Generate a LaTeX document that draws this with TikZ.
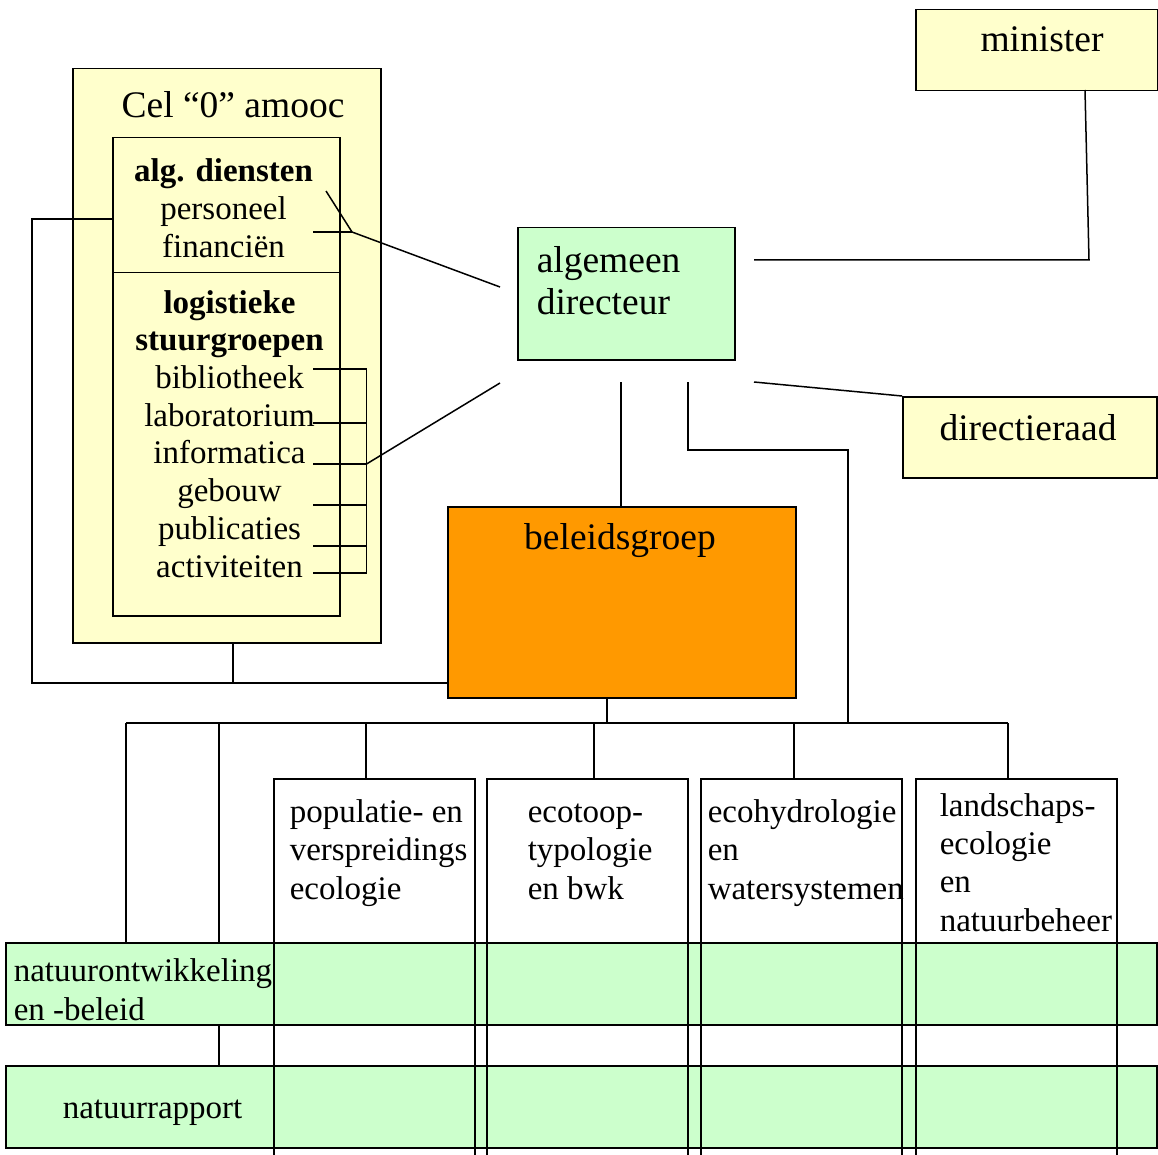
\documentclass[tikz,border=0pt]{standalone}
\usepackage{fontspec}
\setmainfont{Liberation Serif}
\usetikzlibrary{calc,positioning}
\definecolor{paleyellow}{HTML}{FFFFCC}
\definecolor{palegreen}{HTML}{CCFFCC}
\definecolor{deeporange}{HTML}{FF9900}
\tikzset{
  box/.style={draw, inner sep=0pt, anchor=north west},
  ybox/.style={box, fill=paleyellow},
  gbox/.style={box, fill=palegreen},
  obox/.style={box, fill=deeporange},
  colbox/.style={box, minimum width=201pt, minimum height=400pt},
  bigtxt/.style={inner sep=0pt, font=\fontsize{37.5}{43}\selectfont},
  smalltxt/.style={inner sep=0pt, font=\fontsize{33}{38.3}\selectfont}
}

\begin{document}
\begin{tikzpicture}[x=1pt, y=-1pt, line width=1.5pt]
    \useasboundingbox (0,0) rectangle (1158,1155);
    \clip (0,0) rectangle (1158,1155);

    % bands and columns (base anchor = last line)
    \node[gbox, minimum width=1151pt, minimum height=82pt] (row1) at (5,942) {};
    \node[gbox, minimum width=1151pt, minimum height=82pt] (row2) at (5,1065) {};
    \node[colbox] (c1) at (273,778) {};
    \node[colbox] (c2) at (486,778) {};
    \node[colbox] (c3) at (700,778) {};
    \node[colbox] (c4) at (915,778) {};

    \node[smalltxt, anchor=base west, align=left] (row1T) at (13,1020) {natuurontwikkeling\\en -beleid};
    \node[smalltxt, anchor=base west] (row2T) at (62,1118) {natuurrapport};
    \node[smalltxt, anchor=base west, align=left] (c1T) at (289,899) {populatie- en\\verspreidings\\ecologie};
    \node[smalltxt, anchor=base west, align=left] (c2T) at (527,899) {ecotoop-\\typologie\\en bwk};
    \node[smalltxt, anchor=base west, align=left] (c3T) at (707,899) {ecohydrologie\\en\\watersystemen};
    \node[smalltxt, anchor=base west, align=left] (c4T) at (939,931) {landschaps-\\ecologie\\en\\natuurbeheer};

    % top boxes
    \node[ybox, minimum width=242pt, minimum height=81pt] (min) at (915,9) {};
    \node[bigtxt, anchor=base] (minT) at (1042,52) {minister};
    \node[gbox, minimum width=217pt, minimum height=132pt] (dir) at (517,227) {};
    \node[bigtxt, anchor=base west, align=left] (dirT) at (536,315) {algemeen\\directeur};
    \node[ybox, minimum width=254pt, minimum height=81pt] (raad) at (902,396) {};
    \node[bigtxt, anchor=base] (raadT) at (1028,440) {directieraad};
    \node[obox, minimum width=348pt, minimum height=191pt] (beleid) at (447,506) {};
    \node[bigtxt, anchor=base] (beleidT) at (620,549) {beleidsgroep};

    % cel 0
    \node[ybox, minimum width=308pt, minimum height=574pt] (cel) at (72,68) {};
    \node[bigtxt, anchor=base] (celT) at (233,118) {Cel “0” amooc};
    \node[ybox, minimum width=227pt, minimum height=135pt] (alg) at (112,137) {};
    \node[ybox, minimum width=227pt, minimum height=343pt] (logi) at (112,272) {};
    \node[smalltxt, anchor=base, align=center] (algT) at (223.5,258) {\textbf{alg. diensten}\\personeel\\financiën};
    \node[smalltxt, anchor=base, align=center, font=\fontsize{33}{37.7}\selectfont] (logiT) at (229.5,577)
      {\textbf{logistieke}\\\textbf{stuurgroepen}\\bibliotheek\\laboratorium\\informatica\\gebouw\\publicaties\\activiteiten};

    % links inside cel 0
    \coordinate (brkTop) at (366.5,369);
    \coordinate (brkBot) at (366.5,573);
    \coordinate (brkMid) at (366.5,464);
    \foreach \y [count=\i] in {369,423,464,505,546,573} {
      \coordinate (s\i) at (313,\y);
      \draw (s\i) -- (s\i -| brkTop);
    }
    \draw (brkTop) -- (brkBot);
    \coordinate (dirSW) at (500,383);
    \draw (brkMid) -- (dirSW);

    \coordinate (algA) at (326,191);
    \coordinate (algK) at (352,232);
    \coordinate (algF) at (313,232);
    \coordinate (dirNW) at (500,287);
    \draw (algA) -- (algK) -- (dirNW);
    \draw (algF) -- (algK);

    \coordinate (algW) at (112,219);
    \coordinate (loopBL) at (32,683);
    \coordinate (celS) at (233,642);
    \draw (algW) -| (loopBL) -- (loopBL -| beleid.west);
    \draw (celS) -- (celS |- loopBL);

    % links from the director
    \coordinate (dirE) at (754,260);
    \coordinate (minTurn) at (1089,260);
    \coordinate (minS) at (1085,90);
    \draw (dirE) -- (minTurn) -- (minS);
    \coordinate (dirSE) at (754,382);
    \draw (dirSE) -- (raad.north west);
    \coordinate (dirS1) at (621,382);
    \draw (dirS1) -- (dirS1 |- beleid.north);
    \coordinate (dirS2) at (688,382);
    \coordinate (busJ) at (848,723);
    \draw (dirS2) |- (848,450) -- (busJ);

    % bus to the groups
    \coordinate (busL) at (126,723);
    \coordinate (busR) at (1008,723);
    \coordinate (beleidS) at (607,697);
    \draw (busL) -- (busR);
    \draw (beleidS) -- (beleidS |- busL);
    \draw (busL) -- (busL |- row1.north);
    \coordinate (d2) at (219,723);
    \draw (d2) -- (d2 |- row1.north);
    \draw (row1.south -| d2) -- (row2.north -| d2);
    \foreach \x/\c in {366/c1,594/c2,794/c3,1008/c4}
      \draw (\x,723) -- (\x,723 |- \c.north);
\end{tikzpicture}
\end{document}
